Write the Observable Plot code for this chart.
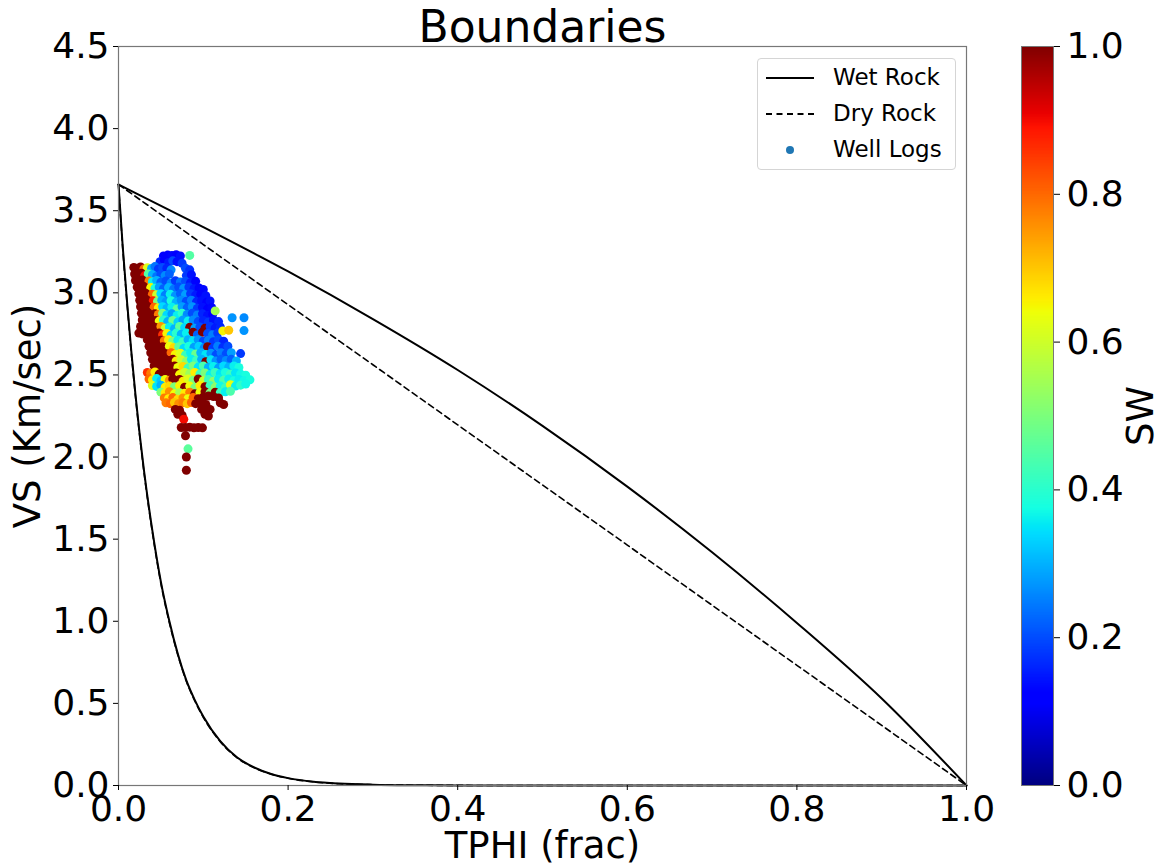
<!DOCTYPE html>
<html><head><meta charset="utf-8">
<script src="https://cdn.jsdelivr.net/npm/d3@7"></script>
<script src="https://cdn.jsdelivr.net/npm/@observablehq/plot@0.6"></script>
<style>
body{margin:0;background:#fff;font-family:"DejaVu Sans",sans-serif}
#wrap{position:relative;width:1165px;height:868px;overflow:hidden}
#main{position:absolute;left:0;top:0}
#cbar{position:absolute;left:990px;top:0}
#legend{position:absolute;left:757px;top:58px;width:197px;height:110px;border:1px solid #d5d5d5;border-radius:4px;background:#fff;font-family:"DejaVu Sans",sans-serif;font-size:23px;color:#000}
.item{position:absolute;left:75px;line-height:23px;white-space:nowrap}
.sample{position:absolute;left:8px;width:48px;height:0}
</style></head><body>
<div id="wrap">
  <div id="main"></div>
  <div id="cbar"></div>
  <div id="legend">
    <div class="sample" style="top:18px;border-top:2px solid #000"></div>
    <div class="item" style="top:7px">Wet Rock</div>
    <div class="sample" style="top:54px;border-top:2px dashed #000"></div>
    <div class="item" style="top:43px">Dry Rock</div>
    <div style="position:absolute;left:28px;top:87px;width:8px;height:8px;border-radius:50%;background:#1f77b4"></div>
    <div class="item" style="top:79px">Well Logs</div>
  </div>
</div>
<script>
// ---- data ----
const xTicks = [0, 0.2, 0.4, 0.6, 0.8, 1.0];
const yTicks = [0, 0.5, 1.0, 1.5, 2.0, 2.5, 3.0, 3.5, 4.0, 4.5];
const swTicks = [0, 0.2, 0.4, 0.6, 0.8, 1.0];

const phiUpper   = [0, 0.1, 0.2, 0.3, 0.4, 0.5, 0.6, 0.7, 0.8, 0.9, 1.0];
const vsWetUpper = [3.66, 3.40, 3.13, 2.84, 2.53, 2.19, 1.82, 1.42, 0.99, 0.53, 0];
const vsDryUpper = [3.66, 3.294, 2.928, 2.562, 2.196, 1.83, 1.464, 1.098, 0.732, 0.366, 0];

const phiLower   = [0, 0.005, 0.01, 0.015, 0.02, 0.03, 0.04, 0.05, 0.06, 0.07, 0.08, 0.09, 0.1, 0.12, 0.14, 0.16, 0.18, 0.2, 0.23, 0.26, 0.3, 0.35, 0.4, 0.5, 1.0];
const vsWetLower = [3.66, 3.28, 2.95, 2.65, 2.38, 1.92, 1.55, 1.24, 1.00, 0.80, 0.64, 0.52, 0.42, 0.27, 0.17, 0.11, 0.07, 0.045, 0.023, 0.012, 0.005, 0.0017, 0.0006, 0, 0];
const vsDryLower = [3.66, 3.27, 2.94, 2.64, 2.37, 1.91, 1.54, 1.23, 0.99, 0.795, 0.635, 0.515, 0.415, 0.267, 0.168, 0.108, 0.069, 0.044, 0.022, 0.011, 0.005, 0.0016, 0.0006, 0, 0];

// well log samples: [TPHI, VS, SW]
const wellLogs = [
[0.053,3.225,0.12],[0.058,3.23,0.11],[0.063,3.228,0.13],[0.068,3.232,0.12],[0.073,3.225,0.14],[0.084,3.228,0.45],
[0.049,3.19,0.16],[0.054,3.2,0.12],[0.059,3.185,0.15],[0.064,3.195,0.2],[0.069,3.19,0.14],[0.075,3.18,0.18],
[0.018,3.155,1],[0.022,3.15,1],[0.026,3.158,1],[0.030,3.145,0.8],[0.034,3.152,0.62],[0.039,3.148,0.3],[0.043,3.16,0.24],[0.047,3.145,0.18],[0.052,3.155,0.2],[0.057,3.15,0.16],[0.062,3.14,0.26],[0.079,3.15,0.2],[0.084,3.14,0.17],
[0.019,3.115,1],[0.023,3.11,1],[0.027,3.12,1],[0.031,3.105,0.9],[0.035,3.115,0.45],[0.040,3.11,0.3],[0.045,3.1,0.24],[0.050,3.112,0.2],[0.055,3.105,0.26],[0.060,3.115,0.22],[0.080,3.105,0.18],[0.086,3.11,0.14],
[0.020,3.075,1],[0.024,3.07,1],[0.028,3.078,1],[0.032,3.065,1],[0.036,3.072,0.78],[0.040,3.068,0.36],[0.045,3.075,0.3],[0.050,3.065,0.22],[0.056,3.072,0.2],[0.062,3.06,0.26],[0.067,3.074,0.18],[0.073,3.066,0.24],[0.079,3.07,0.2],[0.085,3.062,0.15],[0.091,3.07,0.12],
[0.022,3.035,1],[0.026,3.03,1],[0.030,3.038,1],[0.034,3.025,1],[0.038,3.032,0.65],[0.043,3.028,0.38],[0.048,3.035,0.28],[0.053,3.025,0.22],[0.059,3.032,0.3],[0.065,3.022,0.24],[0.071,3.035,0.2],[0.077,3.028,0.27],[0.083,3.035,0.18],[0.089,3.025,0.15],[0.095,3.03,0.12],[0.100,3.02,0.13],
[0.024,2.995,1],[0.028,2.99,1],[0.032,2.998,1],[0.036,2.985,1],[0.040,2.992,0.8],[0.045,2.988,0.6],[0.050,2.995,0.34],[0.055,2.985,0.25],[0.061,2.992,0.36],[0.067,2.982,0.27],[0.073,2.995,0.22],[0.079,2.988,0.28],[0.085,2.995,0.18],[0.091,2.985,0.15],[0.097,2.992,0.12],[0.103,2.982,0.14],
[0.025,2.955,1],[0.029,2.95,1],[0.033,2.958,1],[0.037,2.945,1],[0.041,2.952,0.88],[0.046,2.948,0.5],[0.051,2.955,0.3],[0.056,2.945,0.27],[0.062,2.952,0.38],[0.068,2.942,0.3],[0.074,2.955,0.26],[0.080,2.948,0.2],[0.086,2.955,0.25],[0.092,2.945,0.16],[0.098,2.952,0.14],[0.104,2.942,0.12],[0.108,2.95,0.14],
[0.026,2.915,1],[0.030,2.91,1],[0.034,2.918,1],[0.038,2.905,1],[0.042,2.912,0.8],[0.047,2.908,0.66],[0.052,2.915,0.34],[0.057,2.905,0.3],[0.063,2.912,0.36],[0.069,2.902,0.46],[0.075,2.915,0.28],[0.081,2.908,0.22],[0.087,2.915,0.27],[0.093,2.905,0.18],[0.099,2.912,0.14],[0.105,2.902,0.12],[0.110,2.91,0.13],
[0.027,2.875,1],[0.031,2.87,1],[0.035,2.878,1],[0.039,2.865,1],[0.043,2.872,1],[0.047,2.868,0.78],[0.052,2.875,0.5],[0.057,2.865,0.34],[0.063,2.872,0.28],[0.069,2.862,0.36],[0.075,2.875,0.4],[0.081,2.868,0.26],[0.087,2.875,0.2],[0.093,2.865,0.25],[0.099,2.872,0.16],[0.105,2.862,0.14],[0.111,2.87,0.12],[0.114,2.89,0.55],
[0.028,2.835,1],[0.032,2.83,1],[0.036,2.838,1],[0.040,2.825,1],[0.044,2.832,1],[0.048,2.828,0.64],[0.053,2.835,0.4],[0.058,2.825,0.3],[0.064,2.832,0.48],[0.070,2.822,0.33],[0.076,2.835,0.28],[0.082,2.828,0.36],[0.088,2.835,0.26],[0.094,2.825,0.2],[0.100,2.832,0.16],[0.106,2.822,0.18],[0.112,2.835,0.14],[0.118,2.825,0.16],[0.134,2.848,0.27],[0.148,2.848,0.26],
[0.026,2.795,1],[0.030,2.79,1],[0.034,2.798,1],[0.038,2.785,1],[0.042,2.792,1],[0.046,2.788,1],[0.050,2.795,0.75],[0.055,2.785,0.6],[0.060,2.792,0.36],[0.066,2.782,0.3],[0.072,2.795,0.46],[0.078,2.788,0.34],[0.084,2.79,1],[0.090,2.785,0.28],[0.096,2.792,0.2],[0.102,2.785,1],[0.108,2.795,0.18],[0.114,2.785,0.15],[0.120,2.792,0.16],[0.148,2.77,0.27],
[0.024,2.755,1],[0.028,2.75,1],[0.032,2.758,1],[0.036,2.745,1],[0.040,2.752,1],[0.044,2.748,1],[0.048,2.755,1],[0.052,2.745,0.86],[0.057,2.752,0.65],[0.062,2.742,0.34],[0.068,2.755,0.4],[0.074,2.748,0.3],[0.080,2.755,0.36],[0.088,2.76,1],[0.093,2.745,0.22],[0.099,2.76,1],[0.105,2.752,0.2],[0.111,2.745,0.25],[0.117,2.755,0.18],[0.123,2.768,0.65],[0.130,2.772,0.7],
[0.034,2.715,1],[0.038,2.71,1],[0.042,2.718,1],[0.046,2.705,1],[0.050,2.712,1],[0.054,2.708,0.78],[0.059,2.715,0.66],[0.064,2.705,0.5],[0.070,2.712,0.36],[0.076,2.702,0.42],[0.082,2.715,0.3],[0.088,2.708,0.35],[0.094,2.715,0.27],[0.100,2.705,0.2],[0.106,2.712,0.25],[0.112,2.702,0.18],[0.118,2.715,0.2],[0.124,2.705,0.16],
[0.036,2.675,1],[0.040,2.67,1],[0.044,2.678,1],[0.048,2.665,1],[0.052,2.672,1],[0.056,2.668,1],[0.060,2.675,0.64],[0.065,2.665,0.68],[0.071,2.672,0.46],[0.077,2.662,0.34],[0.083,2.675,0.38],[0.089,2.668,0.28],[0.095,2.675,0.33],[0.101,2.665,0.26],[0.105,2.672,1],[0.111,2.662,0.18],[0.117,2.675,0.25],[0.123,2.668,0.17],[0.129,2.675,0.2],[0.144,2.63,0.18],
[0.038,2.635,1],[0.042,2.63,1],[0.046,2.638,1],[0.050,2.625,1],[0.054,2.632,1],[0.058,2.628,1],[0.062,2.635,0.8],[0.067,2.625,0.65],[0.073,2.632,0.62],[0.079,2.622,0.42],[0.085,2.635,0.36],[0.091,2.628,0.48],[0.097,2.635,0.3],[0.103,2.625,0.35],[0.109,2.632,0.27],[0.115,2.622,0.2],[0.121,2.635,0.25],[0.127,2.628,0.2],[0.133,2.635,0.28],
[0.040,2.595,1],[0.044,2.59,1],[0.048,2.598,1],[0.052,2.585,1],[0.056,2.592,1],[0.060,2.588,1],[0.064,2.595,1],[0.068,2.585,0.66],[0.074,2.592,0.6],[0.080,2.582,0.52],[0.086,2.595,0.36],[0.092,2.588,0.42],[0.098,2.595,0.3],[0.103,2.58,1],[0.109,2.592,0.35],[0.115,2.585,0.27],[0.121,2.595,0.22],[0.127,2.588,0.26],[0.133,2.595,0.22],[0.139,2.585,0.3],
[0.042,2.555,1],[0.046,2.55,1],[0.050,2.558,1],[0.054,2.545,1],[0.058,2.552,1],[0.062,2.548,1],[0.066,2.555,1],[0.070,2.545,0.64],[0.076,2.552,0.68],[0.082,2.542,0.42],[0.088,2.555,0.5],[0.094,2.548,0.35],[0.100,2.555,0.44],[0.106,2.545,0.3],[0.112,2.552,0.36],[0.118,2.542,0.28],[0.124,2.555,0.34],[0.130,2.548,0.3],[0.136,2.555,0.36],[0.142,2.545,0.38],
[0.034,2.515,0.86],[0.038,2.51,0.78],[0.043,2.518,0.66],[0.048,2.505,1],[0.052,2.512,1],[0.056,2.508,1],[0.060,2.515,1],[0.064,2.505,1],[0.068,2.512,1],[0.072,2.502,0.65],[0.078,2.515,0.6],[0.084,2.508,0.54],[0.090,2.515,0.66],[0.096,2.505,0.42],[0.102,2.512,0.5],[0.108,2.502,0.36],[0.114,2.515,0.42],[0.120,2.508,0.35],[0.126,2.515,0.38],[0.132,2.505,0.42],[0.138,2.512,0.35],[0.144,2.505,0.37],[0.150,2.498,0.38],
[0.036,2.475,0.8],[0.040,2.47,0.66],[0.045,2.478,0.36],[0.050,2.465,0.32],[0.055,2.472,0.64],[0.060,2.468,0.75],[0.064,2.475,1],[0.068,2.465,1],[0.072,2.472,1],[0.076,2.462,0.66],[0.082,2.475,0.62],[0.088,2.468,0.5],[0.094,2.475,1],[0.100,2.465,0.6],[0.106,2.472,0.42],[0.112,2.462,0.52],[0.118,2.475,0.36],[0.124,2.468,0.44],[0.130,2.475,0.36],[0.136,2.465,0.38],[0.142,2.472,0.36],[0.148,2.465,0.37],[0.155,2.47,0.38],
[0.040,2.435,0.62],[0.045,2.43,0.35],[0.050,2.438,0.3],[0.055,2.425,0.66],[0.060,2.432,0.68],[0.066,2.428,0.5],[0.072,2.435,0.65],[0.078,2.425,1],[0.084,2.432,0.64],[0.090,2.422,0.5],[0.096,2.435,0.66],[0.102,2.428,1],[0.108,2.435,0.42],[0.114,2.425,0.52],[0.120,2.432,0.37],[0.126,2.422,0.42],[0.132,2.44,0.63],[0.138,2.432,0.36],[0.144,2.438,0.4],[0.150,2.445,0.37],
[0.050,2.395,0.5],[0.055,2.39,0.66],[0.060,2.398,0.76],[0.066,2.385,0.64],[0.072,2.392,0.55],[0.078,2.388,0.66],[0.084,2.395,0.78],[0.090,2.385,1],[0.096,2.392,0.64],[0.102,2.398,1],[0.108,2.39,0.5],[0.114,2.395,1],[0.120,2.392,0.42],[0.126,2.398,0.36],[0.132,2.4,0.44],
[0.054,2.36,0.78],[0.059,2.355,0.66],[0.064,2.362,0.8],[0.070,2.352,0.68],[0.076,2.36,0.76],[0.082,2.355,0.64],[0.088,2.362,0.8],[0.094,2.355,1],[0.100,2.365,1],[0.106,2.372,1],[0.112,2.368,1],[0.118,2.36,1],
[0.056,2.33,0.78],[0.061,2.325,0.8],[0.066,2.332,0.7],[0.071,2.325,0.76],[0.076,2.33,0.78],[0.081,2.325,0.7],[0.086,2.332,0.8],[0.091,2.325,1],[0.097,2.33,1],[0.103,2.32,1],[0.120,2.33,1],[0.124,2.32,1],
[0.067,2.29,1],[0.072,2.285,1],[0.098,2.29,1],[0.103,2.28,1],[0.108,2.29,1],
[0.070,2.26,1],[0.075,2.255,1],[0.102,2.26,1],[0.106,2.25,1],
[0.077,2.23,0.9],
[0.074,2.18,1],[0.079,2.18,1],[0.084,2.182,1],[0.089,2.178,1],[0.094,2.18,1],[0.099,2.178,1],
[0.079,2.13,1],
[0.082,2.05,0.46],
[0.080,2.00,1],
[0.080,1.92,1]
];

// jet colormap stops (for the color scale)
const jetStops  = [0, 0.11, 0.125, 0.34, 0.35, 0.375, 0.64, 0.65, 0.66, 0.89, 0.91, 1];
const jetColors = ["#000080","#0000ff","#0000ff","#00dbff","#00e6f7","#15ffe2","#efff08","#f7f500","#ffec00","#ff1300","#e80000","#800000"];

// ---- build ----
const upper = phiUpper.map((p, i) => ({p, wet: vsWetUpper[i], dry: vsDryUpper[i]}));
const lower = phiLower.map((p, i) => ({p, wet: vsWetLower[i], dry: vsDryLower[i]}));
const colorScale = {type: "linear", domain: jetStops, range: jetColors, interpolate: "rgb"};
const font = "DejaVu Sans";

const main = Plot.plot({
  width: 990, height: 868,
  marginLeft: 118, marginRight: 24, marginTop: 46, marginBottom: 83,
  style: {fontFamily: font, background: "#fff", overflow: "visible"},
  x: {domain: [0, 1]},
  y: {domain: [0, 4.5]},
  color: colorScale,
  marks: [
    Plot.line(upper, {x: "p", y: "wet", stroke: "#000", strokeWidth: 2, curve: "monotone-x"}),
    Plot.line(upper, {x: "p", y: "dry", stroke: "#000", strokeWidth: 1.6, strokeDasharray: "6,4", curve: "monotone-x"}),
    Plot.line(lower, {x: "p", y: "wet", stroke: "#000", strokeWidth: 2, curve: "monotone-x"}),
    Plot.line(lower, {x: "p", y: "dry", stroke: "#000", strokeWidth: 1.6, strokeDasharray: "6,4", curve: "monotone-x"}),
    Plot.dot(wellLogs, {x: d => d[0], y: d => d[1], fill: d => d[2], r: 4.5, stroke: null}),
    Plot.frame({stroke: "#777", strokeWidth: 1.2}),
    Plot.axisX({ticks: xTicks, tickFormat: d3.format(".1f"), fontSize: 36, tickSize: 5, tickPadding: 5, label: null, fill: "#000"}),
    Plot.axisY({ticks: yTicks, tickFormat: d3.format(".1f"), fontSize: 36, tickSize: 5, tickPadding: 4, label: null, fill: "#000"}),
    Plot.text(["Boundaries"], {frameAnchor: "top", dy: -5, lineAnchor: "bottom", fontSize: 44, fill: "#000"}),
    Plot.text(["TPHI (frac)"], {frameAnchor: "bottom", dy: 72, lineAnchor: "bottom", fontSize: 37, fill: "#000"}),
    Plot.text(["VS (Km/sec)"], {frameAnchor: "left", dx: -90, rotate: -90, textAnchor: "middle", lineAnchor: "middle", fontSize: 37, fill: "#000"})
  ]
});
document.getElementById("main").appendChild(main);

const steps = d3.range(0, 1, 0.002);
const cbar = Plot.plot({
  width: 175, height: 868,
  marginLeft: 31, marginRight: 112, marginTop: 46, marginBottom: 83,
  style: {fontFamily: font, background: "transparent", overflow: "visible"},
  x: {domain: [0, 1], axis: null},
  y: {domain: [0, 1]},
  color: colorScale,
  marks: [
    Plot.rect(steps, {x1: () => 0, x2: () => 1, y1: d => d, y2: d => Math.min(1, d + 0.0035), fill: d => d + 0.001}),
    Plot.frame({stroke: "#777", strokeWidth: 1}),
    Plot.axisY({anchor: "right", ticks: swTicks, tickFormat: d3.format(".1f"), fontSize: 36, tickSize: 6, tickPadding: 7, label: null, fill: "#000"}),
    Plot.text(["SW"], {frameAnchor: "right", dx: 88, rotate: -90, textAnchor: "middle", lineAnchor: "middle", fontSize: 37, fill: "#000"})
  ]
});
document.getElementById("cbar").appendChild(cbar);
</script>
</body></html>
